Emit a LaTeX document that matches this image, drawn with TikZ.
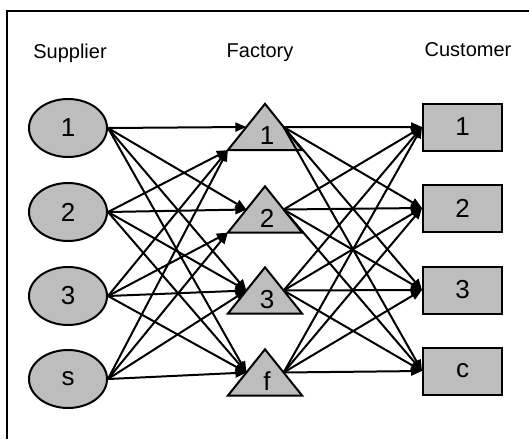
\documentclass[tikz,border=0pt]{standalone}
\usepackage{fontspec}
\setmainfont{Liberation Sans}
\usetikzlibrary{shapes.geometric,arrows.meta,calc}
\definecolor{nodegray}{gray}{0.74}
\newcommand\dgfont{\fontsize{26}{26}\selectfont}
\newcommand\hdfont{\fontsize{20}{20}\selectfont}
\begin{document}
\begin{tikzpicture}[x=1pt,y=-1pt,
  supnode/.style={ellipse,draw,line width=2pt,fill=nodegray,minimum width=78pt,minimum height=58pt,inner sep=0pt,font=\dgfont},
  tribox/.style={rectangle,minimum width=74pt,minimum height=46pt,inner sep=0pt},
  trishape/.style={draw,line width=2pt,fill=nodegray,line join=miter},
  dg/.style={inner sep=0pt,font=\dgfont},
  cusnode/.style={rectangle,draw,line width=2pt,fill=nodegray,minimum width=79pt,minimum height=47pt,inner sep=0pt,font=\dgfont},
  head/.style={inner sep=0pt,font=\hdfont},
  flow/.style={line width=2pt,-{Triangle[length=11pt,width=9pt]}}]
\useasboundingbox (0,0) rectangle (529,439);
\draw[line width=1.6pt] (7,439) -- (7,11) -- (529,11);
\node[head] (hs) at (70,53) {Supplier};
\node[head] (hf) at (260,53) {Factory};
\node[head] (hc) at (468,50) {Customer};
% suppliers
\foreach \i/\y/\t in {1/128/1,2/212/2,3/296/3,4/379/s}
  \node[supnode] (S\i) at (68,\y) {\t};
% factories
\foreach \i/\y/\t in {1/127/1,2/209.5/2,3/290.5/3,4/372.5/f}{
  \node[tribox] (F\i) at (265,\y) {};
  \draw[trishape] (F\i.south west) -- (F\i.north) -- (F\i.south east) -- cycle;
  \node[dg] (Ft\i) at (267,\y+9) {\t};
  \coordinate (Fin\i) at ($(F\i.south west)!0.5!(F\i.north)$);
  \coordinate (Fout\i) at ($(F\i.south east)!0.5!(F\i.north)$);
}
% customers
\foreach \i/\y/\t in {1/127/1,2/208/2,3/290/3,4/371/c}
  \node[cusnode] (C\i) at (462.5,\y) {\t};
% supplier -> factory
\draw[flow] (S1.east) -- (Fin1);
\foreach \s in {2,3,4} \draw[flow] (S\s.east) -- (F1.south west);
\foreach \s in {1,2} \draw[flow] (S\s.east) -- (Fin2);
\foreach \s in {3,4} \draw[flow] (S\s.east) -- (F2.south west);
\foreach \s in {1,2,3,4} \draw[flow] (S\s.east) -- (Fin3);
\foreach \s in {1,2,3,4} \draw[flow] (S\s.east) -- (Fin4);
% factory -> customer
\foreach \f in {1,2,3,4}
  \foreach \c in {1,2,3,4}
    \draw[flow] (Fout\f) -- (C\c.west);
\end{tikzpicture}
\end{document}
